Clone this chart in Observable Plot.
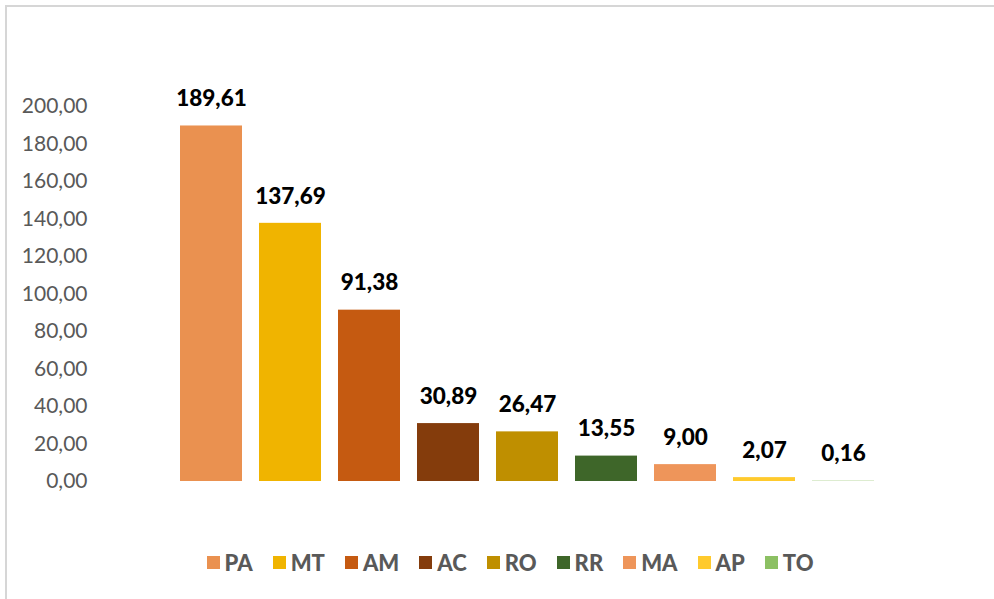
<!DOCTYPE html>
<html>
<head>
<meta charset="utf-8">
<script src="https://cdn.jsdelivr.net/npm/d3@7"></script>
<script src="https://cdn.jsdelivr.net/npm/@observablehq/plot@0.6"></script>
<style>
  html, body { margin: 0; padding: 0; background: #fff; width: 994px; height: 599px; overflow: hidden; }
  #frame { position: absolute; left: 5px; top: 5px; width: 1100px; height: 700px;
           border-left: 2px solid #d6d6d6; border-top: 2px solid #d6d6d6; }
  #chart { position: absolute; left: 0; top: 0; }
  #legend { position: absolute; left: 0; top: 547px; width: 994px; text-align: center;
            font-family: Lato, sans-serif; font-weight: 900; font-size: 22px; color: #595959; padding-left: 26px; box-sizing: border-box; }
  .item { display: inline-flex; align-items: center; margin: 0 10px; }
  .sw { width: 13px; height: 13px; display: inline-block; margin-right: 5px; }
</style>
</head>
<body>
<div id="frame"></div>
<div id="chart"></div>
<div id="legend"></div>
<script>
const states = ["PA", "MT", "AM", "AC", "RO", "RR", "MA", "AP", "TO"];
const values = [189.61, 137.69, 91.38, 30.89, 26.47, 13.55, 9.00, 2.07, 0.16];
const colors = ["#EA9150", "#F0B400", "#C55A11", "#843C0C", "#BF8F00", "#3E6629", "#EE955A", "#FFCA2D", "#8CC063"];
const yTicks = [0, 20, 40, 60, 80, 100, 120, 140, 160, 180, 200];

const data = states.map((s, i) => ({state: s, value: values[i], color: colors[i]}));
const fmt = v => v.toFixed(2).replace(".", ",");

const chart = Plot.plot({
  width: 994,
  height: 520,
  marginLeft: 180,
  marginRight: 119,
  marginTop: 106,
  marginBottom: 39,
  style: {background: "transparent", overflow: "visible"},
  x: {domain: states, paddingInner: 0.215, paddingOuter: 0, axis: null},
  y: {domain: [0, 200], axis: null},
  marks: [
    Plot.axisY({ticks: yTicks, tickSize: 0, tickPadding: 93, tickFormat: fmt, label: null,
      fontSize: 21, fontFamily: "Lato, sans-serif", fill: "#595959", color: "#595959"}),
    Plot.barY(data, {x: "state", y: "value", fill: "color"}),
    Plot.text(data, {x: "state", y: "value", text: d => fmt(d.value), dy: -27,
      fontSize: 22.5, fontWeight: 900, fontFamily: "Lato, sans-serif", fill: "#000"})
  ]
});
document.getElementById("chart").appendChild(chart);

const legend = document.getElementById("legend");
data.forEach(d => {
  const it = document.createElement("span");
  it.className = "item";
  it.innerHTML = `<span class="sw" style="background:${d.color}"></span>${d.state}`;
  legend.appendChild(it);
});
</script>
</body>
</html>
